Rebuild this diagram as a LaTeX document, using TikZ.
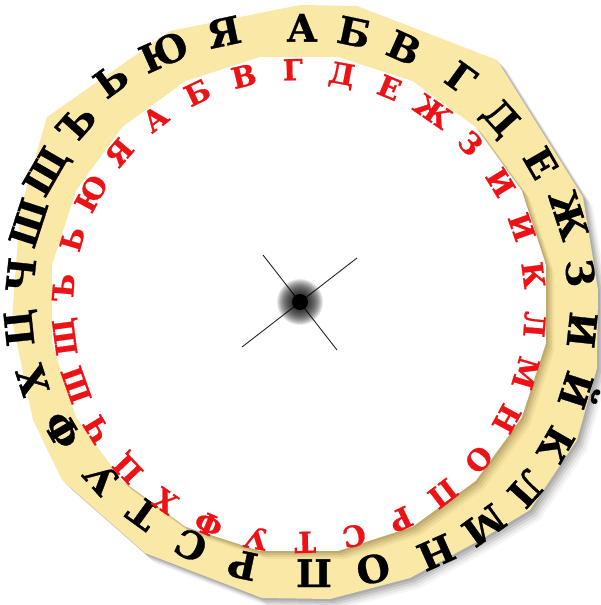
\documentclass[tikz,border=0pt]{standalone}
\usepackage{fontspec}
\newfontfamily\cour{DejaVu Serif}[BoldFeatures={FakeBold=0.8}]
\usetikzlibrary{shapes.geometric}
\definecolor{ring}{RGB}{250,232,166}
\definecolor{cred}{RGB}{236,18,22}
\definecolor{shade}{RGB}{120,95,40}
\begin{document}
\begin{tikzpicture}[x=1pt,y=-1pt,
  outl/.style={font=\cour\bfseries\fontsize{38}{38}\selectfont, inner sep=0pt, text height=0.73em, text depth=0pt, anchor=center},
  inl/.style={font=\cour\bfseries\fontsize{29}{29}\selectfont, text=cred, inner sep=0pt, text height=0.73em, text depth=0pt, anchor=center},
  disk/.style={regular polygon, regular polygon sides=20, minimum size=500pt, inner sep=0pt, draw=none}]
\useasboundingbox (0,0) rectangle (600,605);
\def\outerpoly{(170,31) -- (300,5) -- (357,6) -- (497,60) -- (583,197) -- (598,290) -- (597,368) -- (577,440) -- (530,510) -- (480,540) -- (410,578) -- (330,599) -- (262,598) -- (145,553) -- (62,480) -- (33,420) -- (12,320) -- (20,210) -- (47,117) -- cycle}
% outer shadow
\foreach \d/\o in {2/0.10,4/0.10,6/0.08,8/0.06,10/0.04}
  \fill[black,opacity=\o,shift={(\d,\d)}] \outerpoly;
\fill[ring] \outerpoly;
% inner disk shadow
\foreach \d/\o in {2/0.18,4/0.15,6/0.12,8/0.08}
  \node[disk,fill=shade,opacity=\o] (sh\d) at (299+\d,304+\d) {};
\node[disk,fill=white] (inner) at (299,304) {};
% outer letters
\foreach \t/\x/\y [count=\i from 0] in {А/302/38, Б/352/42, В/400/57, Г/455/86, Д/494/124, Е/532/168, Ж/559/218, З/570/274, И/572/329, Й/566/387, К/547/440, Л/519/482, М/478/517, Н/432/543, О/371/559, П/314/563, Р/245/555, С/195/536, Т/149/505, У/109/471, Ф/71/425, Х/42/377, Ц/29/327, Ч/31/276, Ш/38/226, Щ/54/176, Ъ/84/130, Ь/117/88, Ю/168/61, Я/226/42}
  \node[outl, rotate={-12*\i}] (o\i) at (\x,\y) {\t};
% inner letters
\foreach \t [count=\i from 0] in {А,Б,В,Г,Д,Е,Ж,З,И,И,К,Л,М,Н,О,П,Р,С,Т,У,Ф,Х,Ц,Ч,Ш,Щ,Ъ,Ь,Ю,Я}
  \node[inl, rotate={-(12*\i-37.5)}] (n\i) at ({299+229.5*sin(12*\i-37.5)},{306-229.5*cos(12*\i-37.5)}) {\t};
% centre
\coordinate (c1) at (263,255);
\coordinate (c2) at (337,350);
\coordinate (c3) at (357,258);
\coordinate (c4) at (242,347);
\coordinate (hub) at (300,302);
\draw[line width=0.9pt,black!85] (c1) -- (c2);
\draw[line width=0.9pt,black!85] (c3) -- (c4);
\foreach \r in {23,22,21,20,19,18,17,16,15,14,13,12,11,10,9}
  \fill[black,opacity=0.09] (hub) circle (\r pt);
\fill[black] (hub) circle (8pt);
\end{tikzpicture}
\end{document}
